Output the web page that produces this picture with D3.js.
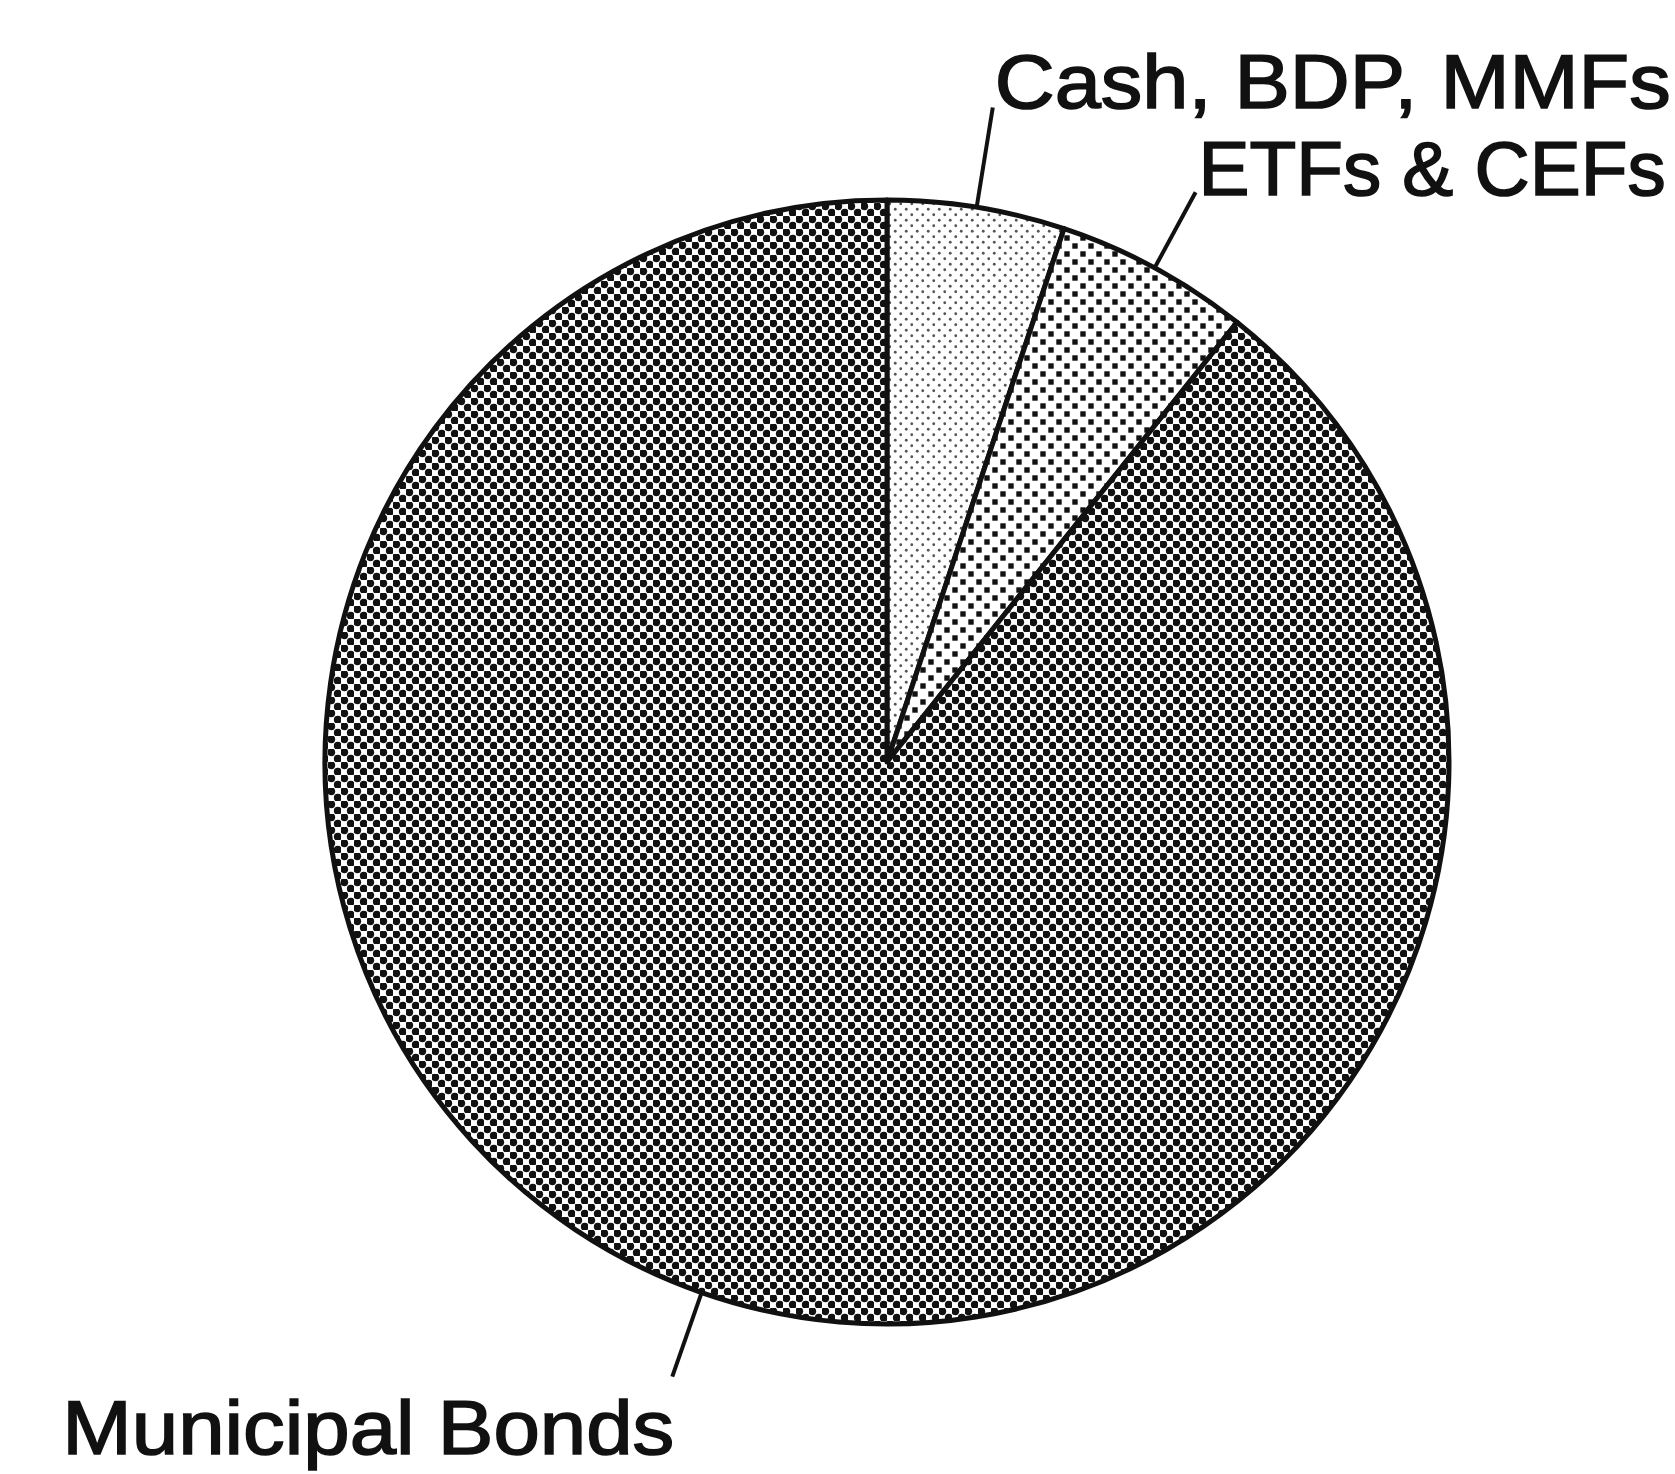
<!DOCTYPE html>
<html>
<head>
<meta charset="utf-8">
<script src="https://cdn.jsdelivr.net/npm/d3@7"></script>
<style>
  html, body { margin: 0; padding: 0; background: #fff; }
  svg { display: block; }
</style>
</head>
<body>
<script>
// ---- data ----
const categories = ["Cash, BDP, MMFs", "ETFs & CEFs", "Municipal Bonds"];
const values = [5.1, 5.6, 89.3];

// ---- layout / style ----
const W = 1675, H = 1474;
const cx = 887, cy = 762, R = 562;
const leaderLen = [101, 86, 89];
const labelAnchor = ["start", "start", "end"];
const labelDx = [2, 3, 2];
const labelDy = [0, 3, 77];
const labelWidth = [676, 467, 612];
const patternIds = ["patCash", "patEtf", "patMuni"];

const svg = d3.select("body").append("svg")
  .attr("width", W).attr("height", H)
  .style("background", "#fff");

const defs = svg.append("defs");

function dotPattern(id, size, r, color, shape) {
  const p = defs.append("pattern")
    .attr("id", id).attr("patternUnits", "userSpaceOnUse")
    .attr("width", size).attr("height", size);
  p.append("rect").attr("width", size).attr("height", size).attr("fill", "#fff");
  const pts = [[size / 4, size / 4], [3 * size / 4, 3 * size / 4]];
  pts.forEach(([x, y]) => {
    if (shape === "rect") {
      p.append("rect").attr("x", x - r).attr("y", y - r)
        .attr("width", 2 * r).attr("height", 2 * r).attr("fill", color);
    } else {
      p.append("circle").attr("cx", x).attr("cy", y).attr("r", r).attr("fill", color);
    }
  });
  return p;
}
dotPattern("patCash", 11, 1.4, "#555", "circle");
dotPattern("patEtf", 16, 2.7, "#111", "rect");
dotPattern("patMuni", 13, 3.9, "#111", "circle");

const pie = d3.pie().sort(null).value(d => d.value);
const data = categories.map((c, i) => ({ name: c, value: values[i], idx: i }));
const arcs = pie(data);

const arc = d3.arc().innerRadius(0).outerRadius(R);

const g = svg.append("g").attr("transform", `translate(${cx},${cy})`);

g.selectAll("path.slice")
  .data(arcs)
  .join("path")
  .attr("class", "slice")
  .attr("d", arc)
  .attr("fill", d => `url(#${patternIds[d.data.idx]})`)
  .attr("stroke", "#111")
  .attr("stroke-width", 5)
  .attr("stroke-linejoin", "round");

// leaders and labels
arcs.forEach(d => {
  const i = d.data.idx;
  const a = (d.startAngle + d.endAngle) / 2;
  const p0 = [Math.sin(a) * R, -Math.cos(a) * R];
  const r1 = R + leaderLen[i];
  const p1 = [Math.sin(a) * r1, -Math.cos(a) * r1];
  g.append("line")
    .attr("x1", p0[0]).attr("y1", p0[1])
    .attr("x2", p1[0]).attr("y2", p1[1])
    .attr("stroke", "#111").attr("stroke-width", 4);
  g.append("text")
    .attr("x", p1[0] + labelDx[i])
    .attr("y", p1[1] + labelDy[i])
    .attr("text-anchor", labelAnchor[i])
    .attr("font-family", "'Liberation Sans', Arial, sans-serif")
    .attr("font-size", 76)
    .attr("fill", "#111")
    .attr("stroke", "#111")
    .attr("stroke-width", 1.6)
    .attr("textLength", labelWidth[i])
    .attr("lengthAdjust", "spacingAndGlyphs")
    .text(d.data.name);
});
</script>
</body>
</html>
